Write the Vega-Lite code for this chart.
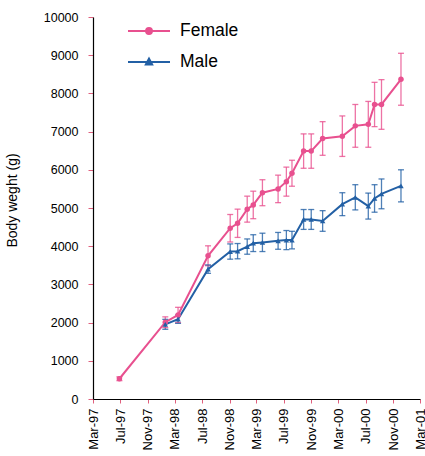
{
  "$schema": "https://vega.github.io/schema/vega-lite/v6.json",
  "autosize": "none",
  "width": 327,
  "height": 382,
  "padding": {"left": 93, "top": 17, "right": 5, "bottom": 57},
  "background": "white",
  "config": {
    "font": "Liberation Sans",
    "view": {"stroke": null},
    "axis": {"grid": false, "domainColor": "#000000", "domainWidth": 1.2, "tickColor": "#e0607e", "tickWidth": 1, "labelColor": "#000000", "titleColor": "#000000", "labelFont": "Liberation Sans", "titleFont": "Liberation Sans"},
    "axisY": {"titleFontSize": 14, "titleFontWeight": "normal", "titlePadding": 24, "titleY": 183, "labelFontSize": 12.5, "tickSize": 5, "labelPadding": 10}
  },
  "datasets": {
    "bw": [
      {"sex": "Female", "date": "1997-06-27", "w": 530, "lo": 480, "hi": 580},
      {"sex": "Female", "date": "1998-01-18", "w": 2010, "lo": 1870, "hi": 2150},
      {"sex": "Female", "date": "1998-03-16", "w": 2200, "lo": 2000, "hi": 2400},
      {"sex": "Female", "date": "1998-07-28", "w": 3750, "lo": 3490, "hi": 4010},
      {"sex": "Female", "date": "1998-11-04", "w": 4470, "lo": 4110, "hi": 4830},
      {"sex": "Female", "date": "1998-12-07", "w": 4600, "lo": 4230, "hi": 4970},
      {"sex": "Female", "date": "1999-01-19", "w": 4970, "lo": 4630, "hi": 5310},
      {"sex": "Female", "date": "1999-02-15", "w": 5080, "lo": 4720, "hi": 5440},
      {"sex": "Female", "date": "1999-03-28", "w": 5400, "lo": 5060, "hi": 5740},
      {"sex": "Female", "date": "1999-06-06", "w": 5500, "lo": 5140, "hi": 5860},
      {"sex": "Female", "date": "1999-07-13", "w": 5690, "lo": 5310, "hi": 6070},
      {"sex": "Female", "date": "1999-08-07", "w": 5910, "lo": 5570, "hi": 6250},
      {"sex": "Female", "date": "1999-09-28", "w": 6490, "lo": 6040, "hi": 6940},
      {"sex": "Female", "date": "1999-11-01", "w": 6490, "lo": 6040, "hi": 6940},
      {"sex": "Female", "date": "1999-12-22", "w": 6820, "lo": 6380, "hi": 7260},
      {"sex": "Female", "date": "2000-03-19", "w": 6880, "lo": 6350, "hi": 7410},
      {"sex": "Female", "date": "2000-05-16", "w": 7150, "lo": 6590, "hi": 7710},
      {"sex": "Female", "date": "2000-07-13", "w": 7190, "lo": 6590, "hi": 7790},
      {"sex": "Female", "date": "2000-08-10", "w": 7710, "lo": 7130, "hi": 8290},
      {"sex": "Female", "date": "2000-09-10", "w": 7710, "lo": 7060, "hi": 8360},
      {"sex": "Female", "date": "2000-12-06", "w": 8370, "lo": 7690, "hi": 9050},
      {"sex": "Male", "date": "1998-01-18", "w": 1955, "lo": 1825, "hi": 2085},
      {"sex": "Male", "date": "1998-03-16", "w": 2090, "lo": 1980, "hi": 2200},
      {"sex": "Male", "date": "1998-07-28", "w": 3400, "lo": 3290, "hi": 3510},
      {"sex": "Male", "date": "1998-11-04", "w": 3860, "lo": 3660, "hi": 4060},
      {"sex": "Male", "date": "1998-12-07", "w": 3870, "lo": 3670, "hi": 4070},
      {"sex": "Male", "date": "1999-01-19", "w": 3990, "lo": 3790, "hi": 4190},
      {"sex": "Male", "date": "1999-02-15", "w": 4080, "lo": 3860, "hi": 4300},
      {"sex": "Male", "date": "1999-03-28", "w": 4100, "lo": 3860, "hi": 4340},
      {"sex": "Male", "date": "1999-06-06", "w": 4140, "lo": 3920, "hi": 4360},
      {"sex": "Male", "date": "1999-07-13", "w": 4160, "lo": 3910, "hi": 4410},
      {"sex": "Male", "date": "1999-08-07", "w": 4160, "lo": 3930, "hi": 4390},
      {"sex": "Male", "date": "1999-09-28", "w": 4700, "lo": 4440, "hi": 4960},
      {"sex": "Male", "date": "1999-11-01", "w": 4700, "lo": 4440, "hi": 4960},
      {"sex": "Male", "date": "1999-12-22", "w": 4660, "lo": 4390, "hi": 4930},
      {"sex": "Male", "date": "2000-03-19", "w": 5100, "lo": 4800, "hi": 5400},
      {"sex": "Male", "date": "2000-05-16", "w": 5280, "lo": 4950, "hi": 5610},
      {"sex": "Male", "date": "2000-07-13", "w": 5050, "lo": 4710, "hi": 5390},
      {"sex": "Male", "date": "2000-08-10", "w": 5250, "lo": 4890, "hi": 5610},
      {"sex": "Male", "date": "2000-09-10", "w": 5370, "lo": 4980, "hi": 5760},
      {"sex": "Male", "date": "2000-12-06", "w": 5580, "lo": 5160, "hi": 6000}
    ]
  },
  "data": {"name": "bw"},
  "encoding": {
    "x": {
      "field": "date", "type": "temporal",
      "scale": {"type": "utc", "domain": [{"year": 1997, "month": 3, "date": 1, "utc": true}, {"year": 2001, "month": 3, "date": 1, "utc": true}]},
      "axis": {
        "title": null, "format": "%b-%y", "labelAngle": -90, "labelAlign": "right", "labelBaseline": "middle",
        "labelFontSize": 13, "tickSize": 4, "labelPadding": 5, "labelOverlap": false, "labelFlush": false,
        "values": [
          {"year": 1997, "month": 3, "date": 1, "utc": true},
          {"year": 1997, "month": 7, "date": 1, "utc": true},
          {"year": 1997, "month": 11, "date": 1, "utc": true},
          {"year": 1998, "month": 3, "date": 1, "utc": true},
          {"year": 1998, "month": 7, "date": 1, "utc": true},
          {"year": 1998, "month": 11, "date": 1, "utc": true},
          {"year": 1999, "month": 3, "date": 1, "utc": true},
          {"year": 1999, "month": 7, "date": 1, "utc": true},
          {"year": 1999, "month": 11, "date": 1, "utc": true},
          {"year": 2000, "month": 3, "date": 1, "utc": true},
          {"year": 2000, "month": 7, "date": 1, "utc": true},
          {"year": 2000, "month": 11, "date": 1, "utc": true},
          {"year": 2001, "month": 3, "date": 1, "utc": true}
        ]
      }
    },
    "color": {
      "field": "sex", "type": "nominal",
      "scale": {"domain": ["Female", "Male"], "range": ["#e8508f", "#2360a5"]},
      "legend": {
        "title": null, "orient": "none", "legendX": 34, "legendY": -8,
        "labelFontSize": 17.5, "labelColor": "#000000", "labelOffset": 9, "rowPadding": -17,
        "symbolType": "M-1,0H1", "symbolSize": 1764, "symbolStrokeWidth": 2,
        "encode": {
          "symbols": {
            "update": {
              "shape": {"signal": "datum.value === 'Female' ? 'M-1,0H1M-0.14,0A0.14,0.14 0 1,1 0.14,0A0.14,0.14 0 1,1 -0.14,0Z' : 'M-1,0H1M-0.15,0.12L0,-0.16L0.15,0.12Z'"},
              "fill": {"signal": "datum.value === 'Female' ? '#e8508f' : '#2360a5'"}
            }
          }
        }
      }
    }
  },
  "layer": [
    {
      "mark": {"type": "rule", "strokeWidth": 1.3, "opacity": 0.8},
      "encoding": {
        "y": {"field": "lo", "type": "quantitative", "scale": {"domain": [0, 10000]},
          "axis": {"title": "Body weght  (g)", "format": "d", "values": [0,1000,2000,3000,4000,5000,6000,7000,8000,9000,10000]}},
        "y2": {"field": "hi"}
      }
    },
    {
      "mark": {"type": "tick", "orient": "horizontal", "size": 6, "thickness": 1.3, "opacity": 0.8},
      "encoding": {"y": {"field": "lo", "type": "quantitative",
          "axis": {"title": "Body weght  (g)", "format": "d", "values": [0,1000,2000,3000,4000,5000,6000,7000,8000,9000,10000]}}}
    },
    {
      "mark": {"type": "tick", "orient": "horizontal", "size": 6, "thickness": 1.3, "opacity": 0.8},
      "encoding": {"y": {"field": "hi", "type": "quantitative",
          "axis": {"title": "Body weght  (g)", "format": "d", "values": [0,1000,2000,3000,4000,5000,6000,7000,8000,9000,10000]}}}
    },
    {
      "mark": {"type": "line", "strokeWidth": 2},
      "encoding": {
        "y": {"field": "w", "type": "quantitative",
          "axis": {"title": "Body weght  (g)", "format": "d", "values": [0,1000,2000,3000,4000,5000,6000,7000,8000,9000,10000]}}
      }
    },
    {
      "transform": [{"filter": "datum.sex === 'Female'"}],
      "mark": {"type": "point", "shape": "circle", "filled": true, "opacity": 1, "size": 30},
      "encoding": {
        "y": {"field": "w", "type": "quantitative",
          "axis": {"title": "Body weght  (g)", "format": "d", "values": [0,1000,2000,3000,4000,5000,6000,7000,8000,9000,10000]}}
      }
    },
    {
      "transform": [{"filter": "datum.sex === 'Male'"}],
      "mark": {"type": "point", "shape": "triangle-up", "filled": true, "opacity": 1, "size": 30},
      "encoding": {
        "y": {"field": "w", "type": "quantitative",
          "axis": {"title": "Body weght  (g)", "format": "d", "values": [0,1000,2000,3000,4000,5000,6000,7000,8000,9000,10000]}}
      }
    }
  ]
}
